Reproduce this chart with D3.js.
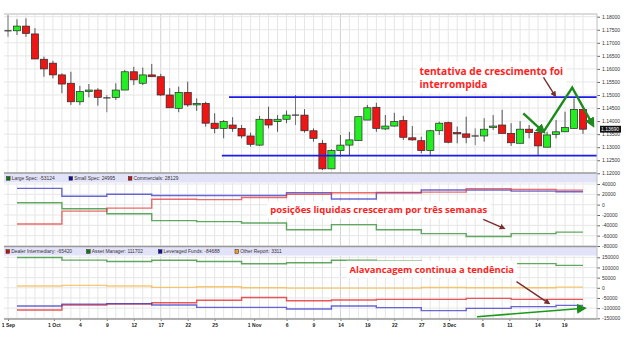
<!DOCTYPE html>
<html><head><meta charset="utf-8">
<script src="https://cdn.jsdelivr.net/npm/d3@7"></script>
<style>body{margin:0;background:#fff}svg{display:block}</style>
</head><body>
<svg id="c" width="633" height="338"></svg>
<script>
// ---------- DATA ----------
const candleOpen  = [1.1746,1.1746,1.1764,1.1734,1.1637,1.1622,1.1577,1.1545,1.1474,1.1513,1.1519,1.1489,1.1491,1.1519,1.1589,1.1545,1.1577,1.1570,1.1500,1.1449,1.1510,1.1462,1.1468,1.1392,1.1372,1.1385,1.1372,1.1343,1.1308,1.1407,1.1398,1.1407,1.1423,1.1423,1.1363,1.1315,1.1217,1.1287,1.1308,1.1325,1.1404,1.1453,1.1370,1.1381,1.1402,1.1336,1.1325,1.1287,1.1363,1.1394,1.1356,1.1351,1.1343,1.1343,1.1376,1.1385,1.1353,1.1315,1.1369,1.1356,1.1300,1.1349,1.1359,1.1372,1.1445];
const candleHigh  = [1.1806,1.1790,1.1794,1.1756,1.1647,1.1631,1.1583,1.1589,1.1535,1.1542,1.1526,1.1500,1.1545,1.1596,1.1608,1.1605,1.1619,1.1581,1.1526,1.1532,1.1551,1.1487,1.1474,1.1430,1.1404,1.1415,1.1385,1.1356,1.1420,1.1455,1.1423,1.1440,1.1500,1.1446,1.1372,1.1328,1.1292,1.1347,1.1359,1.1417,1.1462,1.1470,1.1423,1.1432,1.1420,1.1381,1.1340,1.1366,1.1398,1.1398,1.1379,1.1417,1.1372,1.1411,1.1423,1.1443,1.1392,1.1400,1.1385,1.1372,1.1359,1.1404,1.1436,1.1487,1.1445];
const candleLow   = [1.1723,1.1730,1.1723,1.1638,1.1570,1.1564,1.1507,1.1462,1.1462,1.1491,1.1459,1.1434,1.1481,1.1519,1.1538,1.1538,1.1570,1.1497,1.1451,1.1434,1.1455,1.1439,1.1379,1.1353,1.1334,1.1359,1.1334,1.1302,1.1305,1.1372,1.1359,1.1392,1.1385,1.1356,1.1321,1.1213,1.1217,1.1264,1.1270,1.1325,1.1404,1.1359,1.1366,1.1379,1.1328,1.1325,1.1277,1.1270,1.1347,1.1315,1.1315,1.1315,1.1308,1.1321,1.1366,1.1353,1.1305,1.1315,1.1334,1.1270,1.1300,1.1334,1.1359,1.1372,1.1351];
const candleClose = [1.1746,1.1764,1.1736,1.1638,1.1600,1.1577,1.1542,1.1474,1.1513,1.1519,1.1491,1.1489,1.1519,1.1589,1.1558,1.1577,1.1570,1.1500,1.1451,1.1510,1.1462,1.1468,1.1392,1.1372,1.1398,1.1372,1.1343,1.1311,1.1407,1.1385,1.1407,1.1423,1.1423,1.1363,1.1334,1.1217,1.1287,1.1308,1.1328,1.1417,1.1451,1.1372,1.1381,1.1398,1.1338,1.1328,1.1287,1.1363,1.1392,1.1319,1.1351,1.1338,1.1343,1.1369,1.1381,1.1353,1.1317,1.1369,1.1356,1.1305,1.1347,1.1359,1.1376,1.1445,1.1369];
const lastPriceLabel = "1.13690";

const dateLabels = ["1 Sep","1 Oct","4","9","12","17","22","25","1 Nov","6","9","14","19","22","27","3 Dec","6","11","14","19"];
const dateIndex  = [0,5.1,8,11,14,17,20,23,27.4,31,34,37,40,43,46,49.1,52.8,55.8,58.9,61.9];

const priceTicks = [1.12,1.125,1.13,1.135,1.14,1.145,1.15,1.155,1.16,1.165,1.17,1.175,1.18];
const cotTicks   = [-80000,-60000,-40000,-20000,0,20000,40000];
const tffTicks   = [-150000,-100000,-50000,0,50000,100000,150000];

const weekStart = [1,6,11,16,21,26,31,36,41,46,51,56,61];
const weekEnd = 64;
const largeSpec   = [3600,-7900,-17700,-30800,-32800,-35400,-48500,-38700,-48500,-56000,-61500,-56000,-53124];
const smallSpec   = [31600,16400,20300,17700,17700,17700,23000,11100,23000,28300,28400,26200,24995];
const commercials = [-37500,-12500,-6600,10500,9800,13800,20300,23000,23500,24300,31000,29500,28129];

const dealerIntermediary = [-109000,-84700,-79800,-73300,-61000,-48000,-63500,-60300,-57000,-57000,-52100,-57000,-57000];
const assetManager       = [149000,136000,129000,135500,129500,118000,123000,135200,131900,127000,122100,118900,110500];
const leveragedFunds     = [-89600,-80500,-78000,-84700,-96100,-96100,-104200,-89600,-97700,-112400,-101000,-92800,-86300];
const otherReport        = [8500,11700,8500,1900,5200,0,-1600,-1600,-1600,1600,0,0,3311];

const cotLegend = ["Large Spec: -53124","Small Spec: 24995","Commercials: 28129"];
const tffLegend = ["Dealer Intermediary: -65420","Asset Manager: 111702","Leveraged Funds: -84688","Other Report: 3311"];

const resistance = {from:24.6, to:65.6, price:1.1492};
const support    = {from:23.8, to:65.6, price:1.1268};

// ---------- SCALES ----------
const svg = d3.select("#c");
const L = 4, R = 597;
const x  = d3.scaleLinear().domain([0,64]).range([8,583]);
const yP = d3.scaleLinear().domain([1.12,1.18]).range([173.3,16.7]);
const yM = d3.scaleLinear().domain([-80000,40000]).range([246,184]);
const yB = d3.scaleLinear().domain([-150000,150000]).range([318.3,257.3]);
const FONT = "'Liberation Sans', Arial, sans-serif";

svg.append("rect").attr("width",633).attr("height",338).attr("fill","#fff");

// ---------- GRID ----------
const grid = svg.append("g").attr("stroke","#e6e6e6").attr("stroke-width",1);
const idx = d3.range(0,65);
const panels = [[14,173],[183,246.5],[256,319]];
panels.forEach(([t,b])=>{
  grid.append("g").selectAll("line").data(idx).join("line")
    .attr("x1",d=>x(d)).attr("x2",d=>x(d)).attr("y1",t).attr("y2",b)
    .attr("stroke",d=>(d===17||d===37)?"#d2d2d2":"#e6e6e6");
});
grid.append("g").selectAll("line").data(priceTicks).join("line")
  .attr("x1",L).attr("x2",R).attr("y1",d=>yP(d)).attr("y2",d=>yP(d));
grid.append("g").selectAll("line").data(cotTicks).join("line")
  .attr("x1",L).attr("x2",R).attr("y1",d=>yM(d)).attr("y2",d=>yM(d));
grid.append("g").selectAll("line").data(tffTicks).join("line")
  .attr("x1",L).attr("x2",R).attr("y1",d=>yB(d)).attr("y2",d=>yB(d));

// legend strips
svg.append("rect").attr("x",L).attr("y",173.5).attr("width",R-L).attr("height",9).attr("fill","#e2e2f9");
svg.append("rect").attr("x",L).attr("y",247).attr("width",R-L).attr("height",8.5).attr("fill","#e2e2f9");

// ---------- CANDLES ----------
const candles = candleOpen.map((o,i)=>({i,o,h:candleHigh[i],l:candleLow[i],c:candleClose[i]}));
const gC = svg.append("g");
gC.selectAll("line.w").data(candles).join("line").attr("class","w")
  .attr("x1",d=>x(d.i)).attr("x2",d=>x(d.i))
  .attr("y1",d=>yP(d.h)).attr("y2",d=>yP(d.l))
  .attr("stroke",d=>d.o===d.c?"#777":"#555").attr("stroke-width",1);
gC.selectAll("rect").data(candles.filter(d=>d.o!==d.c)).join("rect")
  .attr("x",d=>x(d.i)-3.6).attr("width",7.2)
  .attr("y",d=>yP(Math.max(d.o,d.c)))
  .attr("height",d=>Math.max(1.2,Math.abs(yP(d.o)-yP(d.c))))
  .attr("fill",d=>d.c>d.o?"#22ee22":"#ee1515")
  .attr("stroke","#2a2a2a").attr("stroke-width",0.7);
gC.selectAll("line.d").data(candles.filter(d=>d.o===d.c)).join("line").attr("class","d")
  .attr("x1",d=>x(d.i)-3.6).attr("x2",d=>x(d.i)+3.6)
  .attr("y1",d=>yP(d.o)).attr("y2",d=>yP(d.o))
  .attr("stroke","#333").attr("stroke-width",1.2);

// support / resistance
[resistance,support].forEach(s=>{
  svg.append("line").attr("x1",x(s.from)).attr("x2",Math.min(R,x(s.to)))
    .attr("y1",yP(s.price)).attr("y2",yP(s.price))
    .attr("stroke","#1c1ce8").attr("stroke-width",1.8);
});

// ---------- COT STEP LINES ----------
function stepLine(vals, yS, color, op){
  const pts = weekStart.map((s,k)=>[s,vals[k]]).concat([[weekEnd, vals[vals.length-1]]]);
  const line = d3.line().x(d=>x(d[0])).y(d=>yS(d[1])).curve(d3.curveStepAfter);
  svg.append("path").attr("d",line(pts)).attr("fill","none")
    .attr("stroke",color).attr("stroke-width",1.4).attr("stroke-opacity",op);
}
stepLine(largeSpec, yM, "#3a943a", 0.8);
stepLine(smallSpec, yM, "#3535c8", 0.75);
stepLine(commercials, yM, "#e63a3a", 0.75);
stepLine(otherReport, yB, "#f5b545", 0.75);
stepLine(assetManager, yB, "#3a943a", 0.8);
stepLine(dealerIntermediary, yB, "#e62e2e", 0.8);
stepLine(leveragedFunds, yB, "#3535c8", 0.75);

// ---------- LEGENDS ----------
function legend(items, colors, xs, yy){
  const g = svg.append("g");
  items.forEach((t,k)=>{
    g.append("rect").attr("x",xs[k]).attr("y",yy-3.6).attr("width",3.6).attr("height",3.6)
      .attr("fill",colors[k]).attr("stroke","#222").attr("stroke-width",0.5);
    g.append("text").attr("x",xs[k]+5.2).attr("y",yy).attr("font-family",FONT)
      .attr("font-size",4.9).attr("fill","#333").text(t);
  });
}
legend(cotLegend, ["#0b7a0b","#10109a","#cc1010"], [6.5,69,128.3], 180.2);
legend(tffLegend, ["#cc1010","#0b7a0b","#10109a","#f0a020"], [6,86.6,158.4,235], 253.3);

// ---------- AXES ----------
function rightAxis(scale, ticks, fmt){
  const g = svg.append("g").attr("transform",`translate(${R},0)`)
    .call(d3.axisRight(scale).tickValues(ticks).tickFormat(fmt).tickSize(3).tickPadding(2));
  g.select(".domain").remove();
  g.selectAll("line").attr("stroke","#666");
  g.selectAll("text").attr("font-family",FONT).attr("font-size",5).attr("fill","#333");
}
rightAxis(yP, priceTicks, d3.format(".5f"));
rightAxis(yM, cotTicks, d=>String(d));
rightAxis(yB, tffTicks, d=>String(d));

const gx = svg.append("g").attr("transform","translate(0,319)")
  .call(d3.axisBottom(x).tickValues(dateIndex).tickFormat((d,k)=>dateLabels[k]).tickSize(2).tickPadding(2));
gx.select(".domain").remove();
gx.selectAll("line").attr("stroke","#777");
gx.selectAll("text").attr("font-family",FONT).attr("font-size",5).attr("font-weight","bold").attr("fill","#222");

// last price box
const lp = candleClose[candleClose.length-1];
svg.append("rect").attr("x",600).attr("y",yP(lp)-3.4).attr("width",21).attr("height",6.8).attr("fill","#111");
svg.append("text").attr("x",601).attr("y",yP(lp)+1.8).attr("font-family",FONT).attr("font-size",5)
  .attr("fill","#fff").text(lastPriceLabel);

// ---------- PANEL BORDERS ----------
const bd = svg.append("g");
bd.append("line").attr("x1",L).attr("x2",R).attr("y1",14).attr("y2",14).attr("stroke","#cfcfcf").attr("stroke-width",1.5);
[173,246.5,319].forEach(yy=>bd.append("line").attr("x1",L).attr("x2",R).attr("y1",yy).attr("y2",yy).attr("stroke","#9a9a9a").attr("stroke-width",1.5));
bd.append("line").attr("x1",R).attr("x2",R).attr("y1",14).attr("y2",319).attr("stroke","#c0c0c0").attr("stroke-width",1);

// ---------- ANNOTATIONS ----------
const defs = svg.append("defs");
function marker(id, color, size){
  defs.append("marker").attr("id",id).attr("viewBox","0 0 10 10").attr("refX",7).attr("refY",5)
    .attr("markerWidth",size).attr("markerHeight",size).attr("markerUnits","userSpaceOnUse")
    .attr("orient","auto").append("path").attr("d","M0,0 L10,5 L0,10 Z").attr("fill",color);
}
marker("ag","#1c8a1c",10);
marker("ab","#7a2e2e",6);

function arrow(pts, color, w, m){
  svg.append("path").attr("d",d3.line()(pts)).attr("fill","none").attr("stroke",color)
    .attr("stroke-width",w).attr("stroke-linejoin","miter").attr("marker-end",`url(#${m})`);
}

const ANN_FONT = "'Open Sans', 'Liberation Sans', sans-serif";
function fitText(lines, px, py, targetW, lineGap){
  const t = svg.append("text").attr("x",px).attr("y",py).attr("font-family",ANN_FONT)
    .attr("font-weight",700).attr("font-size",10).attr("fill","#ff1e1e");
  lines.forEach((s,k)=>t.append("tspan").attr("x",px).attr("dy",k===0?0:lineGap).text(s));
  const w = t.select("tspan").node().getComputedTextLength();
  t.attr("font-size",10*targetW/w);
  return t;
}
function whiteBox(t){
  const b = t.node().getBBox();
  svg.insert("rect", function(){return t.node();})
    .attr("x",b.x-3).attr("y",b.y-2).attr("width",b.width+6).attr("height",b.height+4).attr("fill","#fff");
}
const t1 = fitText(["tentativa de crescimento foi","interrompida"], x(45.8), yP(1.15785), 144, 13);
whiteBox(t1);
const t3 = fitText(["posições liquidas cresceram por três semanas"], x(29.2), yM(-17000), 217, 0);
whiteBox(t3);
const t4 = fitText(["Alavancagem continua a tendência"], x(38), yB(74300), 165, 0);
whiteBox(t4);

// green arrows (price panel)
arrow([[x(57.35),yP(1.1430)],[x(59.6),yP(1.1359)]], "#1c8a1c", 2.4, "ag");
arrow([[x(59.6),yP(1.1359)],[x(62.8),yP(1.1528)],[x(65.1),yP(1.1385)]], "#1c8a1c", 2.4, "ag");
// brown arrows
arrow([[x(59.6),yP(1.1568)],[x(60.9),yP(1.1497)]], "#7a2e2e", 1.4, "ab");
arrow([[x(52.9),yM(-28300)],[x(55.2),yM(-45700)]], "#7a2e2e", 1.4, "ab");
arrow([[x(56.6),yB(30000)],[x(60.2),yB(-76200)]], "#7a2e2e", 1.4, "ab");
// green arrow (bottom panel)
arrow([[x(52.2),yB(-142100)],[x(64.1),yB(-100800)]], "#1c9a1c", 1.6, "ag");
</script>
</body></html>
